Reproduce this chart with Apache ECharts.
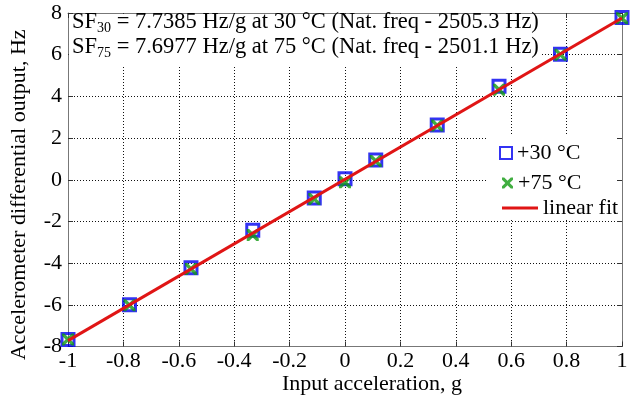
<!DOCTYPE html>
<html>
<head>
<meta charset="utf-8">
<script src="https://cdn.jsdelivr.net/npm/echarts@6/dist/echarts.min.js"></script>
<style>html,body{margin:0;padding:0;background:#fff;}#c{width:630px;height:396px;}</style>
</head>
<body>
<div id="c"></div>
<script>
var xValues = [-1, -0.778, -0.556, -0.333, -0.111, 0, 0.111, 0.333, 0.556, 0.778, 1];
var output30 = [-7.66, -6.0, -4.22, -2.42, -0.88, 0.05, 0.95, 2.63, 4.48, 6.02, 7.78];
var output75 = [-7.66, -6.02, -4.28, -2.65, -0.92, -0.12, 0.9, 2.6, 4.32, 6.0, 7.75];
var fitX = [-1, 1];
var fitY = [-7.72, 7.76];
var xTicks = [-1, -0.8, -0.6, -0.4, -0.2, 0, 0.2, 0.4, 0.6, 0.8, 1];
var yTicks = [-8, -6, -4, -2, 0, 2, 4, 6, 8];
var seriesNames = ['+30 °C', '+75 °C', 'linear fit'];

var FONT = 'Liberation Serif';
function pairs(xs, ys) { return xs.map(function (x, i) { return [x, ys[i]]; }); }
var xPath = 'path://M0,0 L4,0 L10,6 L16,0 L20,0 L20,4 L14,10 L20,16 L20,20 L16,20 L10,14 L4,20 L0,20 L0,16 L6,10 L0,4 Z';

var axisLineStyle = { color: '#777', width: 1 };
var tickStyle = { color: '#333', width: 1 };
var gridLine = { show: true, lineStyle: { color: '#111', width: 1, type: [1, 2] } };

var chart = echarts.init(document.getElementById('c'), null, { renderer: 'canvas' });
chart.setOption({
  animation: false,
  backgroundColor: '#fff',
  grid: { left: 68, right: 8, top: 13, bottom: 49.5, containLabel: false, outerBoundsMode: 'none' },
  xAxis: [{
    type: 'value', position: 'bottom', min: xTicks[0], max: xTicks[xTicks.length - 1], interval: 0.2,
    name: 'Input acceleration, g', nameLocation: 'middle', nameGap: 27, nameMoveOverlap: false,
    nameTextStyle: { fontFamily: FONT, fontSize: 22, color: '#000', padding: [0, 0, 0, 54] },
    axisLine: { show: true, onZero: false, lineStyle: axisLineStyle },
    axisTick: { show: true, inside: true, length: 5, lineStyle: tickStyle },
    axisLabel: { fontFamily: FONT, fontSize: 22, color: '#000', margin: 4,
      formatter: function (v) { return String(Number(v.toFixed(1))); } },
    splitLine: gridLine
  }, {
    type: 'value', position: 'top', min: xTicks[0], max: xTicks[xTicks.length - 1], interval: 0.2,
    axisLine: { show: true, onZero: false, lineStyle: axisLineStyle },
    axisTick: { show: true, inside: true, length: 5, lineStyle: tickStyle },
    axisLabel: { show: false }, splitLine: { show: false }
  }],
  yAxis: [{
    type: 'value', position: 'left', min: yTicks[0], max: yTicks[yTicks.length - 1], interval: 2,
    name: 'Accelerometer differential output, Hz', nameLocation: 'middle', nameGap: 38, nameMoveOverlap: false,
    nameTextStyle: { fontFamily: FONT, fontSize: 22, color: '#000', padding: [0, 30, 0, 0] },
    axisLine: { show: true, onZero: false, lineStyle: axisLineStyle },
    axisTick: { show: true, inside: true, length: 5, lineStyle: tickStyle },
    axisLabel: { fontFamily: FONT, fontSize: 22, color: '#000', margin: 6 },
    splitLine: gridLine
  }, {
    type: 'value', position: 'right', min: yTicks[0], max: yTicks[yTicks.length - 1], interval: 2,
    axisLine: { show: true, onZero: false, lineStyle: axisLineStyle },
    axisTick: { show: true, inside: true, length: 5, lineStyle: tickStyle },
    axisLabel: { show: false }, splitLine: { show: false }
  }],
  legend: [{
    data: [seriesNames[0]], left: 494, top: 137, itemWidth: 12, itemHeight: 12,
    textStyle: { fontFamily: FONT, fontSize: 22, color: '#000' }, selectedMode: false
  }, {
    data: [seriesNames[1]], left: 497, top: 167, itemWidth: 11, itemHeight: 11,
    textStyle: { fontFamily: FONT, fontSize: 22, color: '#000' }, selectedMode: false
  }, {
    data: [{ name: seriesNames[2], icon: 'rect' }], left: 497, top: 192, itemWidth: 36, itemHeight: 3,
    textStyle: { fontFamily: FONT, fontSize: 22, color: '#000' }, selectedMode: false
  }],
  graphic: [
    { type: 'rect', z: 1, shape: { x: 69, y: 14, width: 472, height: 53 }, style: { fill: '#fff' }, silent: true },
    { type: 'rect', z: 1, shape: { x: 486, y: 136, width: 130, height: 83 }, style: { fill: '#fff' }, silent: true },
    { type: 'text', z: 3, left: 72, top: 11, silent: true, style: {
        text: '{n|SF}{s|30}{n| = 7.7385 Hz/g at 30 °C (Nat. freq - 2505.3 Hz)}',
        rich: { n: { fontFamily: FONT, fontSize: 22.5, lineHeight: 25, fill: '#000' },
                s: { fontFamily: FONT, fontSize: 14, lineHeight: 14, verticalAlign: 'bottom', fill: '#000' } } } },
    { type: 'text', z: 3, left: 72, top: 36, silent: true, style: {
        text: '{n|SF}{s|75}{n| = 7.6977 Hz/g at 75 °C (Nat. freq - 2501.1 Hz)}',
        rich: { n: { fontFamily: FONT, fontSize: 22.5, lineHeight: 25, fill: '#000' },
                s: { fontFamily: FONT, fontSize: 14, lineHeight: 14, verticalAlign: 'bottom', fill: '#000' } } } }
  ],
  series: [{
    name: seriesNames[0], type: 'scatter', data: pairs(xValues, output30),
    symbol: 'rect', symbolSize: 12, z: 3,
    itemStyle: { color: 'rgba(255,255,255,0)', borderColor: '#0000f0', borderWidth: 3 }
  }, {
    name: seriesNames[1], type: 'scatter', data: pairs(xValues, output75),
    symbol: xPath, symbolSize: 12, z: 4,
    itemStyle: { color: '#129a12' }
  }, {
    name: seriesNames[2], type: 'line', data: pairs(fitX, fitY),
    symbol: 'none', showSymbol: false, z: 5,
    lineStyle: { color: '#e01515', width: 3 }, itemStyle: { color: '#e01515' }
  }]
});
</script>
</body>
</html>
